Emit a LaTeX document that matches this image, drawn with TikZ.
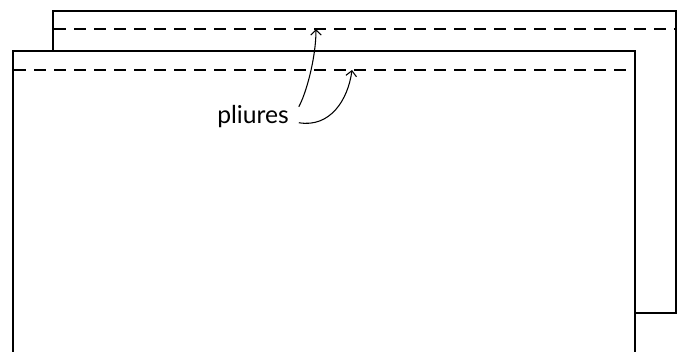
\documentclass[tikz,border=0pt]{standalone}
\usepackage{fontspec}
\setmainfont{Lato}
\usetikzlibrary{arrows.meta}

\begin{document}
\begin{tikzpicture}[x=0.75pt,y=-0.75pt,
  sheet/.style={line width=1.8pt, fill=white},
  fold/.style={line width=2.1pt, dash pattern=on 9pt off 6pt},
  pointer/.style={line width=0.8pt, -{Straight Barb[length=4pt,width=8pt]}}]
\useasboundingbox (0,0) rectangle (683,351);
% back sheet
\draw[sheet] (53,11) rectangle (676,313);
\draw[fold] (54,29) -- (676,29);
% front sheet, open at the bottom
\draw[sheet] (13,353) -- (13,51) -- (635,51) -- (635,353);
\draw[fold] (14,70) -- (635,70);
% label and pointers
\node[anchor=base, font=\fontsize{18.5}{20}\selectfont] (pliures) at (253,123) {pliures};
\coordinate (backfold) at (316,29);
\coordinate (frontfold) at (352,70);
\draw[pointer] ([xshift=4pt,yshift=7pt]pliures.east) .. controls (306,94) and (316,58) .. (backfold);
\draw[pointer] ([xshift=4pt,yshift=-5pt]pliures.east) .. controls (330,128) and (348,100) .. (frontfold);
\end{tikzpicture}
\end{document}
